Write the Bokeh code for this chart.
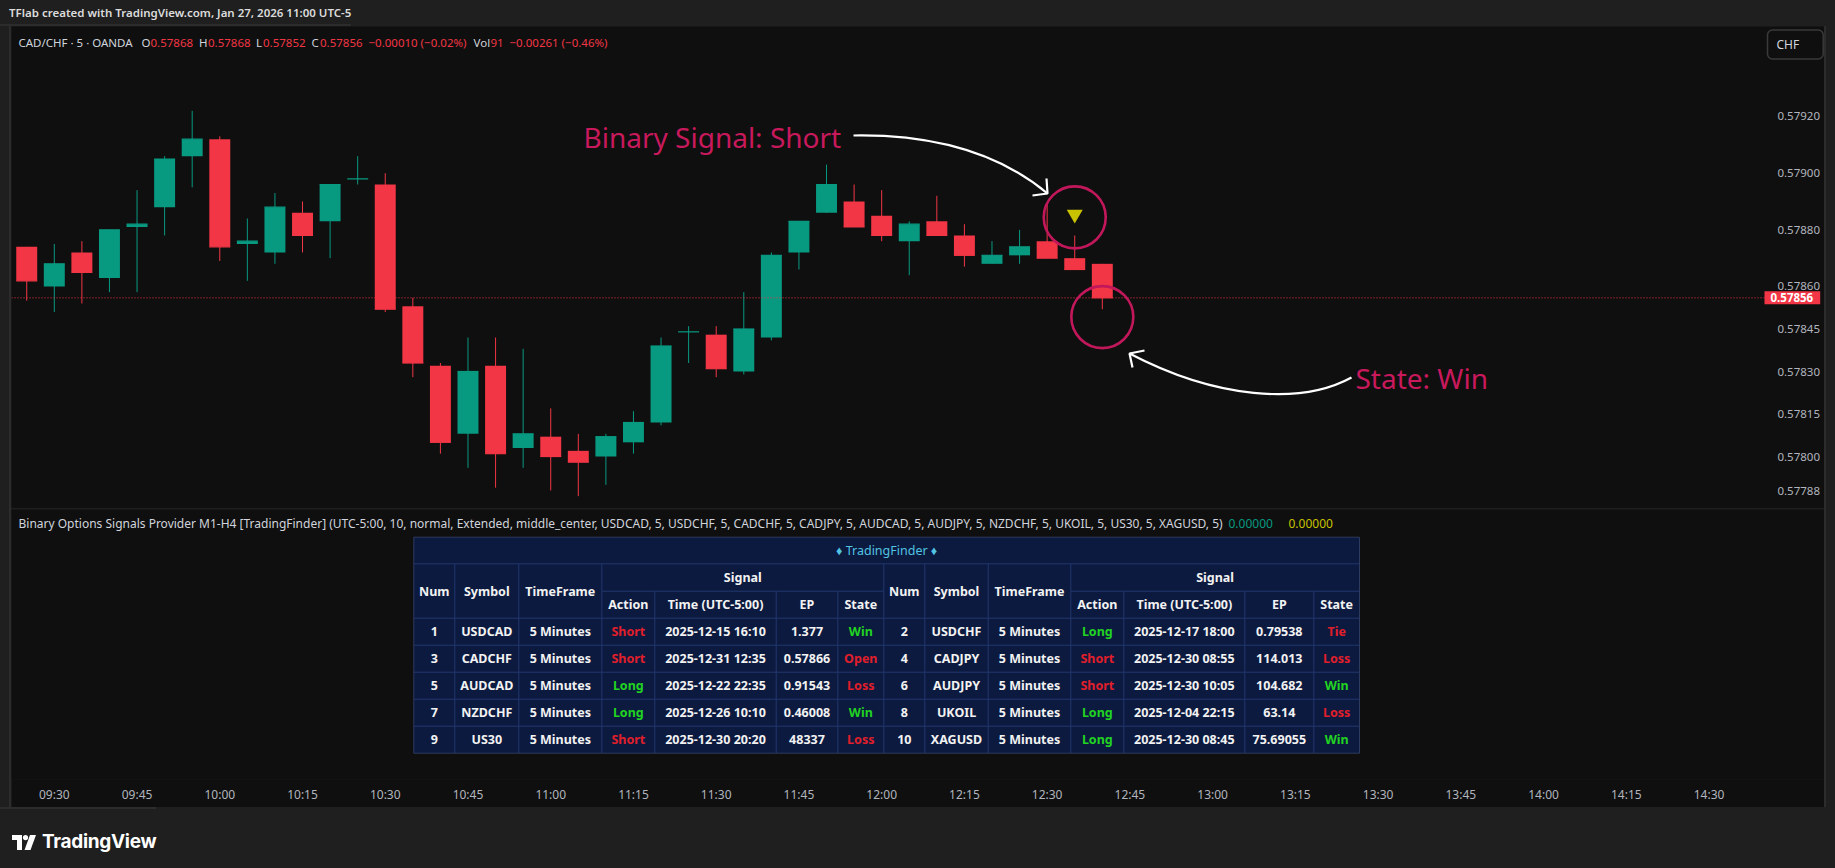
import numpy as np
from bokeh.plotting import figure
from bokeh.models import Range1d, FixedTicker, PrintfTickFormatter, Label, Div
from bokeh.layouts import column, row
from bokeh.core.properties import value
from bokeh.embed import file_html
from bokeh.resources import INLINE

# ---------------- data ----------------
candle_times = ["09:25", "09:30", "09:35", "09:40", "09:45", "09:50", "09:55", "10:00",
                "10:05", "10:10", "10:15", "10:20", "10:25", "10:30", "10:35", "10:40",
                "10:45", "10:50", "10:55", "11:00", "11:05", "11:10", "11:15", "11:20",
                "11:25", "11:30", "11:35", "11:40", "11:45", "11:50", "11:55", "12:00",
                "12:05", "12:10", "12:15", "12:20", "12:25", "12:30", "12:35", "12:40"]
opens = [0.57874, 0.57860, 0.57872, 0.57863, 0.57881, 0.57888, 0.57906, 0.57912,
         0.57875, 0.57872, 0.57886, 0.57883, 0.57898, 0.57896, 0.57853, 0.57832,
         0.57808, 0.57832, 0.57803, 0.57807, 0.57802, 0.57800, 0.57805, 0.57812,
         0.57844, 0.57843, 0.57830, 0.57842, 0.57872, 0.57886, 0.57890, 0.57885,
         0.57876, 0.57883, 0.57878, 0.57868, 0.57871, 0.57876, 0.57870, 0.57868]
highs = [0.57874, 0.57875, 0.57876, 0.57880, 0.57894, 0.57906, 0.57922, 0.57913,
         0.57884, 0.57893, 0.57890, 0.57896, 0.57906, 0.57900, 0.57856, 0.57833,
         0.57842, 0.57842, 0.57838, 0.57817, 0.57808, 0.57808, 0.57816, 0.57842,
         0.57846, 0.57846, 0.57858, 0.57872, 0.57883, 0.57903, 0.57896, 0.57894,
         0.57883, 0.57892, 0.57882, 0.57876, 0.57880, 0.57889, 0.57878, 0.57868]
lows = [0.57855, 0.57851, 0.57854, 0.57858, 0.57858, 0.57878, 0.57895, 0.57869,
        0.57862, 0.57868, 0.57872, 0.57870, 0.57896, 0.57851, 0.57828, 0.57801,
        0.57796, 0.57789, 0.57796, 0.57788, 0.57786, 0.57790, 0.57801, 0.57811,
        0.57833, 0.57828, 0.57829, 0.57841, 0.57866, 0.57886, 0.57881, 0.57876,
        0.57864, 0.57878, 0.57867, 0.57868, 0.57868, 0.57870, 0.57866, 0.57852]
closes = [0.57862, 0.57868, 0.57865, 0.57880, 0.57882, 0.57905, 0.57912, 0.57874,
          0.57876, 0.57888, 0.57878, 0.57896, 0.57898, 0.57852, 0.57833, 0.57805,
          0.57830, 0.57801, 0.57808, 0.57800, 0.57798, 0.57807, 0.57812, 0.57839,
          0.57844, 0.57831, 0.57845, 0.57871, 0.57883, 0.57896, 0.57881, 0.57878,
          0.57882, 0.57878, 0.57871, 0.57871, 0.57874, 0.57870, 0.57866, 0.57856]

price_ticks = [0.57788, 0.57800, 0.57815, 0.57830, 0.57845, 0.57860, 0.57880, 0.57900, 0.57920]
time_tick_labels = ["09:30", "09:45", "10:00", "10:15", "10:30", "10:45", "11:00", "11:15",
                    "11:30", "11:45", "12:00", "12:15", "12:30", "12:45", "13:00", "13:15",
                    "13:30", "13:45", "14:00", "14:15", "14:30"]

signal_time = "12:35"
signal_price = 0.578855
highlight_times = ["12:35", "12:40"]
highlight_prices = [0.578844, 0.578492]

volume = 91
day_change = -0.00261
day_change_pct = -0.46

# table (left half = odd rows, right half = even rows)
num_left = ["1", "3", "5", "7", "9"]
sym_left = ["USDCAD", "CADCHF", "AUDCAD", "NZDCHF", "US30"]
act_left = ["Short", "Short", "Long", "Long", "Short"]
time_left = ["2025-12-15 16:10", "2025-12-31 12:35", "2025-12-22 22:35", "2025-12-26 10:10", "2025-12-30 20:20"]
ep_left = ["1.377", "0.57866", "0.91543", "0.46008", "48337"]
state_left = ["Win", "Open", "Loss", "Win", "Loss"]

num_right = ["2", "4", "6", "8", "10"]
sym_right = ["USDCHF", "CADJPY", "AUDJPY", "UKOIL", "XAGUSD"]
act_right = ["Long", "Short", "Short", "Long", "Long"]
time_right = ["2025-12-17 18:00", "2025-12-30 08:55", "2025-12-30 10:05", "2025-12-04 22:15", "2025-12-30 08:45"]
ep_right = ["0.79538", "114.013", "104.682", "63.14", "75.69055"]
state_right = ["Tie", "Loss", "Win", "Loss", "Win"]
timeframe = "5 Minutes"

indicator_title = ("Binary Options Signals Provider M1-H4 [TradingFinder] (UTC-5:00, 10, normal, Extended, "
                   "middle_center, USDCAD, 5, USDCHF, 5, CADCHF, 5, CADJPY, 5, AUDCAD, 5, AUDJPY, 5, "
                   "NZDCHF, 5, UKOIL, 5, US30, 5, XAGUSD, 5)")
indicator_values = ["0.00000", "0.00000"]

# ---------------- styles ----------------
BG = "#0f0f0f"
OUTER = "#1f1f1f"
GREEN = "#089981"
RED = "#f23645"
AXIS_TXT = "#b2b5be"
UI_TXT = "#d1d4dc"
PINK = "#c8195c"
FONT = "Noto Sans"


def tmin(s):
    hh, mm = s.split(":")
    return int(hh) * 60 + int(mm)


x = np.array([tmin(t) for t in candle_times], dtype=float)
o = np.array(opens)
h = np.array(highs)
l = np.array(lows)
c = np.array(closes)
colors = np.where(c >= o, GREEN, RED).tolist()
bar_w = 3.8

# frames span page x 11 .. 1824 ; price scale sits at page x 1762
X_RANGE = Range1d(562.24, 890.93)
PRICE_SCALE_X = 879.68

# ---------------- main price pane ----------------
p1 = figure(width=1813, height=482, x_range=X_RANGE, y_range=Range1d(0.5778165, 0.5795176),
            output_backend="svg", toolbar_location=None, x_axis_location=None,
            y_axis_location="right", min_border_left=0, min_border_right=0,
            min_border_top=0, min_border_bottom=0, background_fill_color=BG,
            border_fill_color=BG, outline_line_color=None)
p1.grid.visible = False
p1.extra_x_ranges = {"px": Range1d(11, 1824)}
p1.extra_y_ranges = {"px": Range1d(508, 26)}

ya = p1.yaxis[0]
ya.fixed_location = PRICE_SCALE_X
ya.ticker = FixedTicker(ticks=price_ticks)
ya.formatter = PrintfTickFormatter(format="%.5f")
ya.axis_line_color = None
ya.major_tick_line_color = None
ya.minor_tick_line_color = None
ya.major_label_text_color = AXIS_TXT
ya.major_label_text_font = FONT
ya.major_label_text_font_size = "11.5px"
ya.major_label_standoff = 9

# candles
p1.segment(x0=x, y0=l, x1=x, y1=h, line_color=colors, line_width=1)
p1.vbar(x=x, width=bar_w, top=np.maximum(o, c), bottom=np.minimum(o, c),
        fill_color=colors, line_color=None)
p1.segment(x0=x - bar_w / 2, y0=c, x1=x + bar_w / 2, y1=c, line_color=colors, line_width=1.2)

# last price line
p1.segment(x0=[11], x1=[1764], y0=[closes[-1]], y1=[closes[-1]], line_color=RED,
           line_dash="1 2", line_width=1, x_range_name="px")

# signal marker and highlight circles
p1.scatter(x=[tmin(signal_time)], y=[signal_price], marker="inverted_triangle", size=16,
           fill_color="#c8c200", line_color=None)
p1.scatter(x=[tmin(t) for t in highlight_times], y=highlight_prices, marker="circle", size=62,
           fill_alpha=0, line_color="#c2185b", line_width=2.6)

# hand-drawn arrows
p1.quadratic(x0=[853], y0=[135], x1=[1047], y1=[193], cx=[975], cy=[133],
             line_color="white", line_width=2.2, x_range_name="px", y_range_name="px")
p1.multi_line(xs=[[1046, 1047, 1032]], ys=[[178, 193, 195]], line_color="white",
              line_width=2.2, x_range_name="px", y_range_name="px")
p1.bezier(x0=[1351], y0=[377], x1=[1129], y1=[353], cx0=[1300], cy0=[405], cx1=[1215], cy1=[398],
          line_color="white", line_width=2.2, x_range_name="px", y_range_name="px")
p1.multi_line(xs=[[1144, 1129, 1132]], ys=[[350, 353, 367]], line_color="white",
              line_width=2.2, x_range_name="px", y_range_name="px")

p1.text(x=[583, 1355], y=[136, 377], text=["Binary Signal: Short", "State: Win"],
        text_font=value(FONT), text_font_size=value("28px"), text_color=PINK,
        text_baseline="alphabetic", text_align="left", x_range_name="px", y_range_name="px")


# header legend
def signed(v, nd):
    return f"{v:.{nd}f}".replace("-", "\u2212")


chg = closes[-1] - closes[-2]
chg_pct = chg / closes[-2] * 100
hdr_x = [18, 141, 150, 198.5, 207.5, 255.5, 262.5, 311, 319.5, 368, 473, 490, 509]
hdr_txt = ["CAD/CHF \u00b7 5 \u00b7 OANDA", "O", f"{opens[-1]:.5f}", "H", f"{highs[-1]:.5f}",
           "L", f"{lows[-1]:.5f}", "C", f"{closes[-1]:.5f}",
           f"{signed(chg, 5)} ({signed(chg_pct, 2)}%)", "Vol", str(volume),
           f"{signed(day_change, 5)} ({signed(day_change_pct, 2)}%)"]
hdr_col = [UI_TXT, UI_TXT, RED, UI_TXT, RED, UI_TXT, RED, UI_TXT, RED, RED, UI_TXT, RED, RED]
p1.text(x=hdr_x, y=[42] * len(hdr_x), text=hdr_txt, text_color=hdr_col,
        text_font=value(FONT), text_font_size=value("11.5px"), text_baseline="middle",
        text_align="left", x_range_name="px", y_range_name="px")

# price tag and currency button
p1.add_layout(Label(x=1764, y=closes[-1], x_range_name="px", text=f"{closes[-1]:.5f}",
                    text_color="white", text_font=FONT, text_font_size="11.5px",
                    text_font_style="bold", text_align="left", text_baseline="middle",
                    background_fill_color=RED,
                    padding=dict(left=6, right=7, top=2, bottom=2)))
p1.add_layout(Label(x=1767, y=44, x_range_name="px", y_range_name="px", text="CHF",
                    text_color=UI_TXT, text_font=FONT, text_font_size="12px",
                    text_align="left", text_baseline="middle", background_fill_color=BG,
                    border_line_color="#3a3a3a", border_line_width=1.5, border_radius=5,
                    padding=dict(left=9, right=24, top=6, bottom=6)))

# ---------------- indicator pane with time axis ----------------
p2 = figure(width=1813, height=298, x_range=X_RANGE, y_range=Range1d(0, 1),
            output_backend="svg", toolbar_location=None, x_axis_location="below",
            y_axis_location=None, min_border_left=0, min_border_right=0,
            min_border_top=0, min_border_bottom=28, background_fill_color=BG,
            border_fill_color=BG, outline_line_color=None)
p2.grid.visible = False
p2.extra_x_ranges = {"px": Range1d(11, 1824)}
p2.extra_y_ranges = {"px": Range1d(779, 509)}

xa = p2.xaxis[0]
tick_vals = [tmin(t) for t in time_tick_labels]
xa.ticker = FixedTicker(ticks=tick_vals)
xa.major_label_overrides = {v: t for v, t in zip(tick_vals, time_tick_labels)}
xa.axis_line_color = None
xa.major_tick_line_color = None
xa.minor_tick_line_color = None
xa.major_label_text_color = AXIS_TXT
xa.major_label_text_font = FONT
xa.major_label_text_font_size = "12px"
xa.major_label_standoff = 0

# indicator title line
p2.text(x=[18], y=[523], text=[indicator_title], text_color=UI_TXT, text_font=value(FONT),
        text_font_size=value("12px"), text_baseline="middle", text_align="left",
        x_range_name="px", y_range_name="px")
p2.text(x=[1228, 1288], y=[523, 523], text=indicator_values, text_color=[GREEN, "#c8c200"],
        text_font=value(FONT), text_font_size=value("12px"), text_baseline="middle",
        text_align="left", x_range_name="px", y_range_name="px")

# table geometry
col_edges = [413.3, 454.3, 518.3, 601.3, 654.3, 775.7, 837.3, 883.3, 924.3, 987.7,
             1070.3, 1123.3, 1244.3, 1313.3, 1359.0]
row_edges = [536.7, 563.3, 590.7, 617.7, 644.7, 671.7, 698.7, 725.7, 752.7]
T_BG = "#0c1a3f"
T_LINE = "#22376f"
T_TXT = "#f2f2f2"
T_GREEN = "#22d422"
T_RED = "#e01f2b"
T_CYAN = "#52c3e2"

p2.quad(left=[col_edges[0]], right=[col_edges[-1]], top=[row_edges[0]], bottom=[row_edges[-1]],
        fill_color=T_BG, line_color=None, x_range_name="px", y_range_name="px")

sx0, sx1, sy0, sy1 = [], [], [], []
for yy in [row_edges[1]] + row_edges[3:-1]:
    sx0.append(col_edges[0]); sx1.append(col_edges[-1]); sy0.append(yy); sy1.append(yy)
for a, b in [(3, 7), (10, 14)]:
    sx0.append(col_edges[a]); sx1.append(col_edges[b]); sy0.append(row_edges[2]); sy1.append(row_edges[2])
for j in range(1, len(col_edges) - 1):
    top = row_edges[2] if j in (4, 5, 6, 11, 12, 13) else row_edges[1]
    sx0.append(col_edges[j]); sx1.append(col_edges[j]); sy0.append(top); sy1.append(row_edges[-1])
p2.segment(x0=sx0, y0=sy0, x1=sx1, y1=sy1, line_color=T_LINE, line_width=1,
           x_range_name="px", y_range_name="px")
p2.quad(left=[col_edges[0]], right=[col_edges[-1]], top=[row_edges[0]], bottom=[row_edges[-1]],
        fill_alpha=0, line_color="#2e3b5e", line_width=1, x_range_name="px", y_range_name="px")


def mid(a, b):
    return (a + b) / 2


p2.text(x=[mid(col_edges[0], col_edges[-1])], y=[mid(row_edges[0], row_edges[1])],
        text=["\u2666 TradingFinder \u2666"], text_color=T_CYAN, text_font=value(FONT),
        text_font_size=value("12.5px"), text_align="center", text_baseline="middle",
        x_range_name="px", y_range_name="px")

tx, ty, tt, tc = [], [], [], []
for off in (0, 7):
    for k, name in enumerate(["Num", "Symbol", "TimeFrame"]):
        tx.append(mid(col_edges[off + k], col_edges[off + k + 1])); ty.append(mid(row_edges[1], row_edges[3]))
        tt.append(name); tc.append(T_TXT)
    tx.append(mid(col_edges[off + 3], col_edges[off + 7])); ty.append(mid(row_edges[1], row_edges[2]))
    tt.append("Signal"); tc.append(T_TXT)
    for k, name in enumerate(["Action", "Time (UTC-5:00)", "EP", "State"]):
        tx.append(mid(col_edges[off + 3 + k], col_edges[off + 4 + k])); ty.append(mid(row_edges[2], row_edges[3]))
        tt.append(name); tc.append(T_TXT)

halves = [(0, num_left, sym_left, act_left, time_left, ep_left, state_left),
          (7, num_right, sym_right, act_right, time_right, ep_right, state_right)]
for off, nums, syms, acts, times, eps, states in halves:
    for r in range(len(nums)):
        yy = mid(row_edges[3 + r], row_edges[4 + r])
        cells = [nums[r], syms[r], timeframe, acts[r], times[r], eps[r], states[r]]
        cols = [T_TXT, T_TXT, T_TXT, T_GREEN if acts[r] == "Long" else T_RED, T_TXT, T_TXT,
                T_GREEN if states[r] == "Win" else T_RED]
        for k in range(7):
            tx.append(mid(col_edges[off + k], col_edges[off + k + 1])); ty.append(yy)
            tt.append(cells[k]); tc.append(cols[k])

p2.text(x=tx, y=ty, text=tt, text_color=tc, text_font=value(FONT), text_font_size=value("12.5px"),
        text_font_style="bold", text_align="center", text_baseline="middle",
        x_range_name="px", y_range_name="px")

# ---------------- frame decorations ----------------
top_div = Div(text=('<div style="height:26px;line-height:25px;padding-left:9px;'
                    'font-family:\'Noto Sans\';font-size:11.5px;font-weight:600;color:#dcdcdc;'
                    'background:#1f1f1f;box-sizing:border-box;border-bottom:2px solid #2c2c2c;">'
                    'TFlab created with TradingView.com, Jan 27, 2026 11:00 UTC-5</div>'),
              width=1835, height=26, margin=0)
left_div = Div(text=('<div style="width:11px;height:781px;background:#1f1f1f;box-sizing:border-box;'
                     'border-right:2px solid #2c2c2c;"></div>'), width=11, height=781, margin=0)
right_div = Div(text=('<div style="width:11px;height:781px;background:#1f1f1f;box-sizing:border-box;'
                      'border-left:2px solid #2c2c2c;"></div>'), width=11, height=781, margin=0)
sep_div = Div(text='<div style="width:1813px;height:1px;background:#2c2c2c;"></div>',
              width=1813, height=1, margin=0)
logo = ('<svg width="24" height="15" viewBox="0 0 24 15" style="vertical-align:middle;margin-right:6px">'
        '<path d="M0 0H10V15H5V5H0Z" fill="#ffffff"/><circle cx="13.5" cy="2.6" r="2.6" fill="#ffffff"/>'
        '<path d="M18 0H24L18.5 15H12.5Z" fill="#ffffff"/></svg>')
bottom_div = Div(text=('<div style="height:61px;background:#1f1f1f;box-sizing:border-box;'
                       'border-top:2px solid #2c2c2c;padding-left:12px;padding-top:19px;'
                       'font-family:Inter,\'Noto Sans\';font-size:19px;font-weight:700;color:#ffffff;'
                       'letter-spacing:-0.3px;">' + logo + 'TradingView</div>'),
                 width=1835, height=61, margin=0)

root = column(top_div,
              row(left_div, column(p1, sep_div, p2, spacing=0), right_div, spacing=0),
              bottom_div, spacing=0, styles={"background-color": OUTER})

open("out.html", "w").write(file_html(root, INLINE))
